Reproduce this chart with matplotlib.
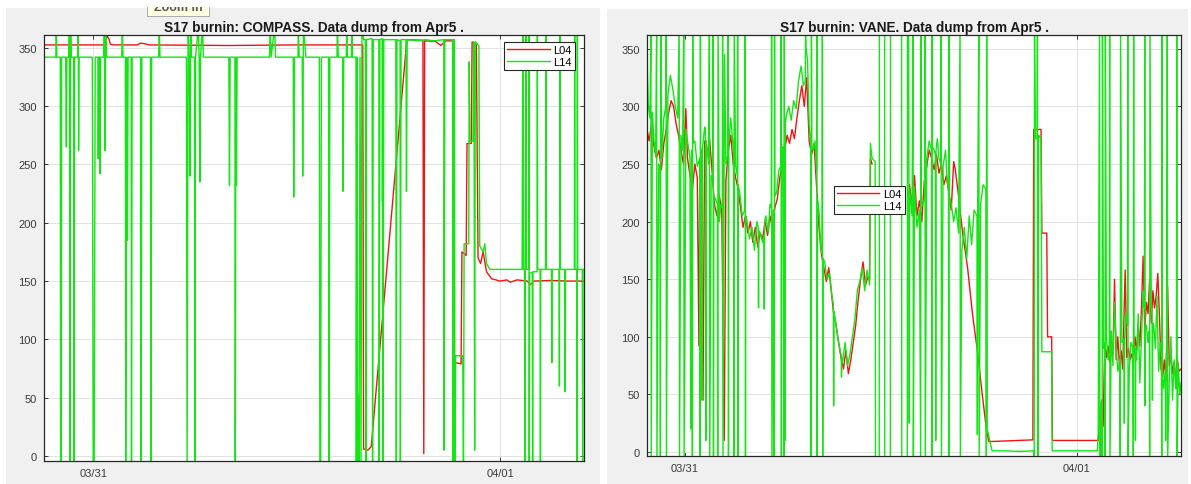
import numpy as np
import matplotlib
matplotlib.use('Agg')
from matplotlib import pyplot as plt
from matplotlib.patches import Rectangle

plt.rcParams['font.family'] = ['Liberation Sans', 'DejaVu Sans']

# time axis: hours since 03/31 00:00, samples are (hour, degrees)
TICK_HOURS = [0, 24]
TICK_LABELS = ['03/31', '04/01']
Y_TICKS = [0, 50, 100, 150, 200, 250, 300, 350]
SERIES_NAMES = ['L04', 'L14']
TITLES = ['S17 burnin: COMPASS. Data dump from Apr5 .',
          'S17 burnin: VANE. Data dump from Apr5 .']

COMPASS_L04 = [
    (-2.90, 352.5), (0.60, 352.5), (0.72, 355), (0.82, 360), (0.92, 358), (1.02, 353),
    (1.20, 352.5), (2.60, 352.5), (2.80, 354), (3.05, 353.5), (3.30, 352.5), (8.00, 352),
    (12.00, 352.5), (15.90, 352.5), (15.95, 6), (16.20, 5), (16.40, 8), (18.50, 357),
    (19.45, 356.5), (19.50, 2), (19.55, 356), (20.20, 355.5), (20.50, 352), (20.80, 356),
    (21.25, 356), (21.30, 38), (21.35, 80), (21.70, 79), (21.75, 175), (22.00, 172),
    (22.05, 268), (22.30, 268), (22.35, 355), (22.60, 354), (22.70, 170), (22.85, 165),
    (23.00, 175), (23.20, 158), (23.50, 152), (24.00, 150), (24.40, 151), (24.60, 149),
    (25.00, 151), (25.60, 150), (25.80, 147), (26.00, 150), (27.00, 150.5), (28.00, 150),
    (28.95, 150),
]

COMPASS_L14 = [
    (-2.90, 342), (-2.20, 342), (-2.18, 368), (-2.14, 342),
    (-1.94, 342), (-1.92, -8), (-1.88, -8), (-1.86, 342),
    (-1.62, 342), (-1.58, 265), (-1.55, 342),
    (-1.44, 342), (-1.40, 368), (-1.37, -8), (-1.33, 368), (-1.30, 342),
    (-1.15, 342), (-1.13, -8), (-1.10, 342),
    (-0.92, 342), (-0.88, 368), (-0.86, 262), (-0.83, 342),
    (-0.05, 342), (0.00, -8), (0.06, -8), (0.12, 342),
    (0.28, 342), (0.30, 255), (0.33, 342),
    (0.39, 342), (0.41, 242), (0.44, 342),
    (0.62, 342), (0.66, 368), (0.70, 262), (0.74, 368), (0.80, 342),
    (1.68, 342), (1.72, 368), (1.76, 342),
    (1.90, 342), (1.92, -8), (1.98, 342), (2.02, 185), (2.06, 342),
    (2.24, 342), (2.26, -8), (2.30, 342),
    (2.80, 342), (2.83, -8), (2.87, 342),
    (3.38, 342), (3.41, -8), (3.45, 342),
    (3.86, 342), (3.90, 368), (3.94, 342),
    (5.50, 342), (5.54, -8), (5.60, 368), (5.66, 342), (5.71, 240), (5.75, 368), (5.80, 342),
    (5.98, 342), (6.00, -8), (6.04, 342), (6.20, 368), (6.25, 342), (6.29, 235), (6.33, 342),
    (6.45, 368), (6.50, 342),
    (8.00, 342), (8.04, 232), (8.08, 342),
    (8.36, 342), (8.38, -8), (8.42, 342), (8.45, 232), (8.49, 342),
    (10.40, 342), (10.44, 368), (10.50, 342), (10.70, 368), (10.76, 342),
    (11.80, 342), (11.83, 222), (11.87, 342),
    (12.08, 342), (12.10, 368), (12.15, 342),
    (12.33, 342), (12.36, 240), (12.40, 368), (12.55, 342),
    (13.34, 342), (13.37, -8), (13.42, -8), (13.46, 342),
    (13.88, 342), (13.92, -8), (13.96, 342),
    (14.38, 342), (14.40, 368), (14.46, 342),
    (14.71, 342), (14.74, 227), (14.78, 342),
    (14.93, 342), (14.95, 368), (15.00, 342),
    (15.23, 342), (15.25, 368), (15.30, 342),
    (15.50, 342), (15.52, -8), (15.56, 342), (15.60, -8), (15.64, 52), (15.68, -8),
    (15.74, 342), (15.80, -8), (15.85, 368),
    (15.95, 357), (16.05, 357), (16.08, -8), (16.12, 357),
    (16.45, 358), (16.48, -8), (16.52, 357),
    (16.85, 357), (16.87, -8), (16.91, 357),
    (17.04, 358), (17.06, 218), (17.08, 357), (17.10, -8), (17.14, 357),
    (17.85, 357), (17.88, -8), (17.92, 357),
    (18.10, 356), (18.12, -8), (18.16, 357),
    (18.45, 357), (18.48, 227), (18.52, 357),
    (19.20, 356), (19.60, 357), (20.10, 356),
    (20.68, 357), (20.70, 5), (20.74, 357),
    (21.20, 357), (21.22, -8), (21.26, 357), (21.30, 357), (21.34, -8), (21.38, 86),
    (21.80, 86), (21.84, -8), (21.88, 182), (22.15, 182), (22.18, 338), (22.22, 270),
    (22.40, 270), (22.46, 355), (22.50, 5), (22.54, 355), (22.75, 352), (22.80, 180),
    (23.00, 175), (23.10, 182), (23.20, 165), (23.40, 160), (24.00, 160), (24.90, 160),
    (25.30, 160), (25.34, 368), (25.38, 160),
    (25.44, 160), (25.46, -8), (25.48, 160),
    (25.52, 368), (25.55, 160),
    (25.68, 160), (25.70, 368), (25.72, -8), (25.74, 157),
    (25.90, 157), (25.92, -8), (25.94, 158),
    (26.18, 158), (26.20, 368), (26.22, 160),
    (26.36, 160), (26.38, -8), (26.40, 160),
    (26.68, 160), (26.70, 368), (26.72, 160),
    (27.03, 160), (27.05, 80), (27.07, 160),
    (27.48, 160), (27.50, 60), (27.53, 368), (27.56, 160),
    (27.82, 160), (27.84, 55), (27.86, 160),
    (28.38, 160), (28.40, 368), (28.42, 160),
    (28.52, 160), (28.54, -8), (28.56, 368), (28.58, 160),
    (28.85, 160), (28.87, -8), (28.89, 160), (28.95, 160),
]

VANE_L04 = [
    (-2.33, 280), (-2.20, 270), (-2.05, 285), (-1.90, 265), (-1.75, 255), (-1.60, 262),
    (-1.45, 245), (-1.30, 268), (-1.15, 280), (-1.00, 295), (-0.85, 305), (-0.70, 300),
    (-0.55, 285), (-0.40, 275), (-0.25, 262), (-0.10, 250), (0.05, 298), (0.15, 255),
    (0.30, 240), (0.45, 228), (0.60, 250), (0.75, 238), (0.85, 92), (0.90, 245),
    (1.00, 215), (1.10, 45), (1.20, 270), (1.35, 258), (1.50, 272), (1.65, 245),
    (1.80, 215), (1.95, 205), (2.10, 222), (2.25, 210), (2.40, 10), (2.50, 235),
    (2.65, 262), (2.80, 275), (2.95, 250), (3.10, 238), (3.25, 228), (3.40, 212),
    (3.55, 195), (3.70, 205), (3.85, 190), (4.00, 200), (4.15, 182), (4.30, 195),
    (4.45, 178), (4.60, 190), (4.75, 185), (4.90, 200), (5.05, 188), (5.20, 205),
    (5.35, 195), (5.50, 212), (5.65, 220), (5.80, 238), (5.95, 250), (6.10, 262),
    (6.25, 275), (6.40, 268), (6.55, 280), (6.70, 272), (6.85, 290), (7.00, 305),
    (7.15, 318), (7.30, 300), (7.45, 325), (7.60, 270), (7.75, 258), (7.90, 268),
    (8.05, 232), (8.20, 195), (8.35, 172), (8.50, 160), (8.65, 148), (8.80, 160),
    (8.95, 140), (9.10, 120), (9.25, 110), (9.40, 95), (9.55, 82), (9.70, 72),
    (9.85, 88), (10.00, 68), (10.15, 80), (10.30, 95), (10.45, 110), (10.60, 132),
    (10.75, 150), (10.90, 165), (11.05, 145), (11.20, 152), (11.30, 150), (11.35, 255),
    (11.45, 250), (11.50, np.nan),
    (13.75, 232), (13.90, 215), (14.05, 240), (14.20, 205), (14.35, 218), (14.50, 200),
    (14.65, 235), (14.80, 248), (14.95, 262), (15.10, 255), (15.25, 245), (15.40, 258),
    (15.55, 242), (15.70, 250), (15.85, 232), (16.00, 240), (16.15, 225), (16.30, 210),
    (16.45, 252), (16.55, 245), (16.70, 228), (17.00, 190), (17.30, 160), (17.60, 120),
    (17.90, 88), (18.20, 50), (18.45, 20), (18.60, 9), (19.50, 9.5), (20.50, 10),
    (21.30, 10.5), (21.35, 280), (21.80, 280), (21.85, 190), (22.15, 190), (22.20, 100),
    (22.45, 100), (22.50, 10), (25.30, 10),
    (25.40, 28), (25.50, 35), (25.60, 22), (25.70, 95), (25.80, 82), (25.90, 92),
    (26.00, 78), (26.10, 95), (26.20, 85), (26.30, 150), (26.40, 80), (26.50, 100),
    (26.60, 75), (26.70, 88), (26.80, 72), (26.95, 158), (27.05, 82), (27.15, 90),
    (27.25, 80), (27.35, 85), (27.45, 78), (27.55, 100), (27.65, 88), (27.75, 110),
    (27.85, 92), (27.95, 125), (28.05, 170), (28.15, 105), (28.25, 130), (28.35, 120),
    (28.45, 150), (28.55, 112), (28.65, 140), (28.75, 125), (28.85, 135), (28.95, 155),
    (29.05, 118), (29.15, 72), (29.25, 65), (29.35, 80), (29.45, 62), (29.55, 144),
    (29.65, 75), (29.75, 85), (29.85, 68), (29.95, 78), (30.05, 62), (30.15, 80),
    (30.25, 70), (30.37, 72),
]

VANE_L14 = [
    (-2.33, 345), (-2.25, 300), (-2.15, 290), (-2.09, 368), (-2.07, -8), (-2.00, 295),
    (-1.90, 270), (-1.80, 258), (-1.74, 368), (-1.72, -8), (-1.62, 250), (-1.53, 248),
    (-1.51, -8), (-1.49, 368), (-1.42, 255), (-1.30, 290), (-1.18, 300), (-1.16, 368),
    (-1.14, -8), (-1.05, 310), (-0.90, 327), (-0.75, 315), (-0.60, 300), (-0.45, 290),
    (-0.36, 368), (-0.34, -8), (-0.25, 275), (-0.15, 262), (-0.08, 368), (-0.06, -8),
    (0.05, 280), (0.15, 270), (0.30, 255), (0.35, 20), (0.40, 262), (0.45, -8),
    (0.47, 368), (0.49, 268), (0.60, 270), (0.75, 248), (0.90, 255), (0.92, -8),
    (0.94, 368), (0.96, 262), (1.02, 262), (1.04, 45), (1.06, 262), (1.20, 282),
    (1.25, 280), (1.27, 10), (1.29, 270), (1.45, 250), (1.49, 368), (1.51, -8),
    (1.60, 240), (1.70, 235), (1.72, 368), (1.74, -8), (1.76, 222), (1.85, 220),
    (1.98, 215), (2.00, -8), (2.02, 368), (2.10, 200), (2.20, 215), (2.28, 212),
    (2.30, 368), (2.32, -8), (2.42, 345), (2.50, 250), (2.62, 258), (2.64, 368),
    (2.66, -8), (2.68, 270), (2.80, 290), (2.97, 260), (2.99, -8), (3.01, 368),
    (3.10, 248), (3.20, 240), (3.22, 368), (3.24, -8), (3.26, 232), (3.35, 225),
    (3.50, 205), (3.66, 210), (3.68, 368), (3.70, -8), (3.72, 205), (3.80, 200),
    (3.95, 185), (4.10, 195), (4.25, 175), (4.40, 200), (4.48, 195), (4.50, 125),
    (4.52, 192), (4.60, 190), (4.75, 182), (4.83, 188), (4.85, 124), (4.87, 200),
    (4.95, 205), (5.10, 190), (5.20, 215), (5.28, 212), (5.30, 368), (5.32, -8),
    (5.40, 210), (5.46, -8), (5.48, 368), (5.50, 222), (5.60, 225), (5.75, 245),
    (5.86, 248), (5.88, 368), (5.90, -8), (5.92, 258), (6.00, 265), (6.06, -8),
    (6.08, 368), (6.12, 10), (6.14, 285), (6.20, 292), (6.35, 300), (6.50, 288),
    (6.65, 305), (6.80, 298), (6.95, 322), (7.10, 335), (7.25, 318), (7.36, 322),
    (7.38, 368), (7.40, 352), (7.50, 340), (7.60, 285), (7.70, 265), (7.72, -8),
    (7.74, 368), (7.76, 265), (7.85, 262), (7.95, 270), (8.05, 245), (8.07, 368),
    (8.09, -8), (8.11, 220), (8.20, 210), (8.30, 180), (8.39, 172), (8.41, 368),
    (8.43, -8), (8.45, 168), (8.55, 165), (8.70, 150), (8.85, 155), (9.00, 135),
    (9.08, 128), (9.10, 40), (9.12, 122), (9.20, 115), (9.35, 100), (9.50, 88),
    (9.56, 84), (9.58, 65), (9.60, 82), (9.65, 78), (9.80, 95), (9.95, 75),
    (10.10, 85), (10.25, 100), (10.40, 115), (10.55, 140), (10.70, 148), (10.85, 160),
    (11.00, 140), (11.15, 158), (11.30, 145), (11.35, 268), (11.45, 255), (11.64, 252),
    (11.66, -8), (11.89, -8), (11.90, 368), (12.22, 368), (12.23, -8), (12.57, -8),
    (12.58, 368), (13.26, 368), (13.27, -8), (13.61, -8), (13.62, 368), (13.69, 368),
    (13.71, 230), (13.73, 25), (13.75, 228), (13.90, 205), (13.96, 368), (13.98, -8),
    (14.05, 230), (14.20, 195), (14.35, 210), (14.43, -8), (14.45, 368), (14.47, 212),
    (14.55, 215), (14.67, 220), (14.69, 368), (14.71, -8), (14.80, 255), (14.95, 270),
    (15.09, 262), (15.11, -8), (15.13, 368), (15.15, 265), (15.25, 262), (15.33, 258),
    (15.35, 10), (15.37, 262), (15.45, 272), (15.55, 255), (15.66, 250), (15.68, 368),
    (15.70, -8), (15.80, 248), (15.95, 262), (16.05, 235), (16.13, 230), (16.15, -8),
    (16.17, 368), (16.19, 222), (16.30, 215), (16.45, 200), (16.60, 212), (16.75, 190),
    (16.84, 368), (16.86, -8), (16.95, 175), (17.10, 195), (17.25, 168), (17.40, 205),
    (17.55, 180), (17.70, 210), (17.88, 205), (17.90, 15), (17.92, 212), (17.99, 368),
    (18.01, -8), (18.10, 215), (18.25, 232), (18.43, 228), (18.45, -8), (18.47, 368),
    (18.50, 20), (18.80, 1), (19.50, 1), (20.50, 0.5), (21.35, 1), (21.38, -8),
    (21.40, 368), (21.45, 272), (21.56, 272), (21.58, 368), (21.60, -8), (21.65, 275),
    (21.80, 272), (21.85, 87), (22.45, 87), (22.48, 1), (25.25, 1),
    (25.30, 15), (25.38, 368), (25.40, -8), (25.45, 40), (25.52, 45), (25.54, -8),
    (25.56, 368), (25.62, 90), (25.70, 95), (25.72, -8), (25.74, 368), (25.80, 100),
    (25.90, 80), (25.98, 85), (26.00, 368), (26.02, -8), (26.10, 105), (26.20, 75),
    (26.30, 130), (26.40, 92), (26.50, 70), (26.63, 80), (26.65, -8), (26.67, 368),
    (26.75, 95), (26.88, 98), (26.90, 25), (26.92, 100), (27.00, 120), (27.09, 110),
    (27.11, 368), (27.13, -8), (27.20, 70), (27.30, 95), (27.43, 90), (27.45, -8),
    (27.47, 368), (27.49, 85), (27.56, 90), (27.58, 10), (27.60, 88), (27.65, 80),
    (27.75, 120), (27.85, 60), (27.95, 100), (28.05, 140), (28.13, 125), (28.15, 368),
    (28.17, 40), (28.19, 108), (28.25, 110), (28.35, 95), (28.43, 105), (28.45, -8),
    (28.47, 368), (28.55, 125), (28.60, 118), (28.62, 45), (28.64, 112), (28.70, 110),
    (28.80, 90), (28.90, 135), (29.00, 70), (29.10, 95), (29.17, 90), (29.19, -8),
    (29.21, 368), (29.23, 70), (29.30, 55), (29.41, 70), (29.43, 10), (29.45, 75),
    (29.50, 90), (29.53, 368), (29.55, -8), (29.65, 60), (29.75, 100), (29.85, 45),
    (29.95, 80), (30.05, 55), (30.09, 60), (30.11, 368), (30.13, -8), (30.20, 75),
    (30.30, 50), (30.37, 60),
]

RED = '#f01414'
GREEN = '#14e614'
INK = '#262626'
FIG_W, FIG_H = 1191, 485


def px_rect(x0, y0, x1, y1):
    # pixel box (top-left origin) -> figure fraction rect
    return [x0 / FIG_W, 1 - y1 / FIG_H, (x1 - x0) / FIG_W, (y1 - y0) / FIG_H]


def style_axes(ax, xlim, ylim, title):
    ax.set_xlim(xlim)
    ax.set_ylim(ylim)
    ax.set_xticks(TICK_HOURS)
    ax.set_xticklabels(TICK_LABELS)
    ax.set_yticks(Y_TICKS)
    ax.grid(True, color='#e2e2e2', lw=0.7)
    ax.set_axisbelow(True)
    ax.tick_params(direction='in', length=3, width=0.7, top=True, right=True,
                   labelsize=8, colors='#3a3a3a', pad=5)
    for sp in ax.spines.values():
        sp.set_color(INK)
        sp.set_linewidth(0.9)
    ax.set_title(title, fontsize=9.8, fontweight='bold', color='#1a1a1a', pad=3)


def draw_panel(ax, l04, l14):
    t4, v4 = np.array(l04, dtype=float).T
    t14, v14 = np.array(l14, dtype=float).T
    ax.plot(t4, v4, color=RED, lw=1.0, label=SERIES_NAMES[0])
    ax.plot(t14, v14, color=GREEN, lw=1.0, label=SERIES_NAMES[1])


def add_legend(ax, loc, anchor):
    leg = ax.legend(loc=loc, bbox_to_anchor=anchor, borderaxespad=0, fontsize=8,
                    handlelength=3.8, handletextpad=0.3, labelspacing=0.15,
                    borderpad=0.3, fancybox=False, framealpha=1)
    leg.get_frame().set_edgecolor(INK)
    leg.get_frame().set_linewidth(0.8)


def main():
    fig = plt.figure(figsize=(FIG_W / 100, FIG_H / 100), dpi=100, facecolor='white')

    # the two grey figure windows, behind everything
    for box in [(6, 9, 600, 485), (607, 10, 1188, 485)]:
        x0, y0, w, h = px_rect(*box)
        fig.patches.append(Rectangle((x0, y0), w, h, transform=fig.transFigure,
                                     facecolor='#f0f0f0', edgecolor='none', zorder=-10))

    ax_l = fig.add_axes(px_rect(44, 36, 584, 462))
    draw_panel(ax_l, COMPASS_L04, COMPASS_L14)
    style_axes(ax_l, (-2.9, 28.95), (-4.3, 361), TITLES[0])
    add_legend(ax_l, 'upper right', (0.983, 0.984))

    ax_r = fig.add_axes(px_rect(647, 36, 1181, 457))
    draw_panel(ax_r, VANE_L04, VANE_L14)
    style_axes(ax_r, (-2.33, 30.37), (-3.5, 362), TITLES[1])
    add_legend(ax_r, 'upper left', (0.350, 0.642))

    # half-cut "Zoom in" tooltip at the top of the left window
    tip = fig.add_axes(px_rect(147, 8, 209, 17))
    tip.set_facecolor('#ffffe1')
    tip.set_xticks([])
    tip.set_yticks([])
    for name, sp in tip.spines.items():
        sp.set_color('#a0a0a0')
        sp.set_linewidth(0.6)
        if name == 'top':
            sp.set_visible(False)
    tip.text(0.5, 1.0, 'Zoom in', transform=tip.transAxes, ha='center', va='center',
             fontsize=9, fontweight='bold', color='#555555', clip_on=True)

    fig.savefig('out.png', dpi=100, facecolor='white')
    plt.close(fig)


if __name__ == '__main__':
    main()
